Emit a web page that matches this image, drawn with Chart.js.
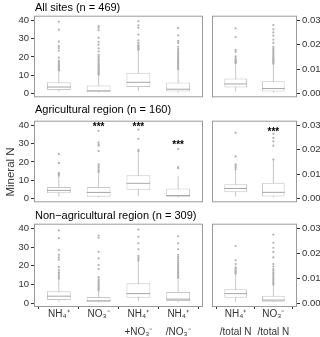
<!DOCTYPE html>
<html>
<head>
<meta charset="utf-8">
<script src="https://cdn.jsdelivr.net/npm/chart.js@4.4.1/dist/chart.umd.min.js"></script>
<style>
  body { margin: 0; background: #fff; }
  #fig { position: relative; width: 320px; height: 337px; overflow: hidden; font-family: 'Liberation Sans', Arial, sans-serif; }
  #fig canvas { position: absolute; }
  .title { position: absolute; left: 35px; font-size: 11px; line-height: 13px; color: #000; white-space: nowrap; z-index: 2; }
  .ylab { position: absolute; left: -20px; top: 165px; width: 60px; height: 14px; line-height: 14px; font-size: 11.5px; font-weight: 400; color: #333; text-align: center; transform: rotate(-90deg); z-index: 2; }
</style>
</head>
<body>
<div id="fig">
  <div class="title" style="top:1px">All sites (n = 469)</div>
  <div class="title" style="top:103px">Agricultural region (n = 160)</div>
  <div class="title" style="top:209px">Non−agricultural region (n = 309)</div>
  <div class="ylab">Mineral N</div>
</div>
<script>
const minCats = [['NH₄⁺'], ['NO₃⁻'], ['NH₄⁺', '+NO₃⁻'], ['NH₄⁺', '/NO₃⁻']]
const ratioCats = [['NH₄⁺', '/total N'], ['NO₃⁻', '/total N']]
const minTicks = [0, 10, 20, 30, 40]
const ratioTicks = [0, 0.01, 0.02, 0.03]

// each box: [lower whisker, Q1, median, Q3, upper whisker]
const allBox = [[1.0, 1.9, 3.5, 6.1, 12.1], [0.5, 0.9, 1.4, 4.4, 9.8], [1.4, 3.5, 6.1, 11.4, 23.5], [0.5, 1.1, 2.3, 6.0, 13.0]]
const allOut = [
    [12.6, 13.0, 13.4, 13.8, 14.3, 14.8, 15.4, 16.0, 16.6, 17.2, 17.9, 19.6, 23.5, 24.9, 26.0, 28.4, 35.0, 39.3],
    [10.2, 10.7, 11.2, 11.8, 12.3, 12.9, 13.5, 14.0, 14.6, 15.2, 15.8, 16.5, 17.2, 18.0, 18.8, 19.6, 20.4, 21.2, 23.0, 24.7, 26.7, 28.2, 30.5, 34.7, 36.1, 37.0],
    [23.9, 24.3, 24.8, 25.3, 25.9, 26.5, 27.7, 29.1, 32.3, 36.1, 37.4, 39.6],
    [13.3, 13.8, 14.3, 14.9, 15.5, 16.1, 16.7, 17.3, 18.0, 18.7, 19.4, 20.1, 20.9, 21.7, 22.5, 23.4, 24.4, 25.6, 27.7, 28.8, 31.9, 35.8]
]
const allRatioBox = [[0.0008, 0.0024, 0.0039, 0.0061, 0.0120], [0.0004, 0.0008, 0.0020, 0.0050, 0.0120]]
const allRatioOut = [
    [0.0124, 0.0127, 0.0130, 0.0133, 0.0136, 0.0139, 0.0145, 0.0153, 0.0172, 0.0179, 0.0232, 0.0268],
    [0.0122, 0.0126, 0.0130, 0.0134, 0.0138, 0.0142, 0.0147, 0.0152, 0.0157, 0.0162, 0.0168, 0.0174, 0.0180, 0.0186, 0.0192, 0.0208, 0.0221, 0.0238, 0.0251, 0.0264, 0.0282]
]

const agriBox = [[1.0, 2.8, 4.4, 6.2, 12.0], [0.5, 0.9, 3.3, 6.2, 13.7], [1.4, 4.8, 8.3, 12.7, 24.8], [0.5, 0.9, 1.6, 5.5, 12.3]]
const agriOut = [
    [12.5, 13.0, 13.4, 14.1, 19.5, 24.3],
    [14.3, 15.1, 16.0, 16.9, 17.8, 18.7, 26.0, 28.9, 29.6, 30.6, 37.1],
    [25.7, 26.6, 32.7, 37.7],
    [16.5, 17.2, 27.1]
]
const agriSig = ['', '***', '***', '***']
const agriSigAt = [null, 40.4, 40.7, 30.7]
const agriRatioBox = [[0.0008, 0.0025, 0.0041, 0.0058, 0.0116], [0.0004, 0.0008, 0.0025, 0.0065, 0.0156]]
const agriRatioOut = [
    [0.0120, 0.0127, 0.0133, 0.0140, 0.0173, 0.0270],
    [0.0160, 0.0217, 0.0235, 0.0249, 0.0266]
]
const agriRatioSig = ['', '***']
const agriRatioSigAt = [null, 0.0282]

const nonBox = [[0.7, 1.6, 3.7, 6.3, 12.2], [0.4, 0.7, 1.2, 3.2, 6.5], [1.1, 2.8, 5.1, 10.6, 22.2], [0.4, 1.1, 2.1, 6.0, 12.7]]
const nonOut = [
    [13.0, 13.9, 14.8, 15.7, 16.5, 17.8, 19.4, 23.3, 24.5, 25.9, 28.5, 34.9, 39.1],
    [6.9, 7.5, 8.1, 8.7, 9.3, 9.9, 10.6, 11.3, 12.0, 12.8, 13.9, 18.3, 20.4, 24.0, 27.5, 35.1, 36.3],
    [22.7, 23.6, 24.5, 25.4, 28.9, 32.1, 35.6, 39.5],
    [13.4, 14.0, 14.6, 15.2, 15.8, 16.5, 17.2, 17.9, 18.6, 19.4, 20.2, 21.0, 21.9, 22.8, 23.8, 24.8, 25.9, 28.9, 32.1, 35.9]
]
const nonRatioBox = [[0.0005, 0.0021, 0.0038, 0.0056, 0.0114], [0.0003, 0.0005, 0.0012, 0.0029, 0.0071]]
const nonRatioOut = [
    [0.0118, 0.0122, 0.0126, 0.0130, 0.0134, 0.0139, 0.0144, 0.0157, 0.0173, 0.0230],
    [0.0074, 0.0079, 0.0084, 0.0089, 0.0094, 0.0099, 0.0105, 0.0111, 0.0117, 0.0123, 0.0130, 0.0137, 0.0147, 0.0157, 0.0184, 0.0206, 0.0223, 0.0243, 0.0276]
]

const FONT = "'Liberation Sans', Arial, sans-serif"
const BOX = '#c6c6c6'
const MED = '#a6a6a6'
const DOT = '#b0b0b0'
const INK = '#333'

Chart.defaults.font.family = FONT
Chart.defaults.animation = false

const fig = document.getElementById('fig')

const frame = {
    id: 'frame',
    afterDatasetsDraw(chart) {
        const a = chart.chartArea
        const ctx = chart.ctx
        ctx.save()
        ctx.strokeStyle = '#9a9a9a'
        ctx.lineWidth = 1
        ctx.strokeRect(a.left - 0.5, a.top - 0.5, a.right - a.left + 1, a.bottom - a.top + 1)
        ctx.restore()
    }
}

function stars(labels, at) {
    return {
        id: 'stars',
        afterDatasetsDraw(chart) {
            const { ctx, scales: { x, y } } = chart
            ctx.save()
            ctx.fillStyle = '#000'
            ctx.font = `bold 10px ${FONT}`
            ctx.textAlign = 'center'
            ctx.textBaseline = 'middle'
            labels.forEach((t, i) => {
                if (t) ctx.fillText(t, x.getPixelForValue(i + 1), y.getPixelForValue(at[i]) + 2.5)
            })
            ctx.restore()
        }
    }
}

function panel({ left, top, width, height, boxes, outs, cats, ratio, bottom, sig, sigAt }) {
    const canvas = document.createElement('canvas')
    canvas.width = width
    canvas.height = height
    canvas.style.left = left + 'px'
    canvas.style.top = top + 'px'
    fig.appendChild(canvas)

    const whisk = [], meds = [], dots = []
    boxes.forEach((b, i) => {
        const x = i + 1
        whisk.push({ x, y: b[0] }, { x, y: b[4] }, { x, y: null })
        meds.push({ x: x - 0.3, y: b[2] }, { x: x + 0.3, y: b[2] }, { x, y: null })
        outs[i].forEach(v => dots.push({ x, y: v }))
    })

    const xs = cats.map((c, i) => i + 1)
    const yTicks = ratio ? ratioTicks : minTicks
    const yMax = ratio ? 0.03158 : 42.1
    const yMin = ratio ? -0.00118 : -1.58

    const plugins = [frame]
    if (sig) plugins.push(stars(sig, sigAt))

    new Chart(canvas, {
        type: 'bar',
        data: {
            datasets: [
                { type: 'line', data: whisk, borderColor: BOX, borderWidth: 1, pointRadius: 0, spanGaps: false, order: 4 },
                {
                    type: 'bar',
                    data: boxes.map((b, i) => ({ x: i + 1, y: [b[1], b[3]] })),
                    backgroundColor: '#fff', borderColor: BOX, borderWidth: 1, borderSkipped: false,
                    barPercentage: 0.6, categoryPercentage: 1, order: 3
                },
                { type: 'line', data: meds, borderColor: MED, borderWidth: 1, pointRadius: 0, spanGaps: false, order: 2 },
                { type: 'scatter', data: dots, backgroundColor: DOT, borderWidth: 0, pointRadius: 1.1, order: 1 }
            ]
        },
        options: {
            responsive: false,
            devicePixelRatio: 1,
            layout: { padding: { top: 6, bottom: bottom ? 0 : 6, left: ratio ? 7 : 0, right: ratio ? 0 : 2 } },
            plugins: { legend: { display: false }, tooltip: { enabled: false } },
            scales: {
                x: {
                    type: 'linear',
                    min: 0.4,
                    max: cats.length + 0.6,
                    offset: false,
                    display: !!bottom,
                    afterBuildTicks: s => { s.ticks = xs.map(v => ({ value: v })) },
                    afterFit: s => { s.height = bottom ? 31 : 0 },
                    border: { display: false },
                    grid: { display: true, drawOnChartArea: false, tickLength: 3, tickColor: INK },
                    ticks: {
                        color: INK, padding: -4, maxRotation: 0, autoSkip: false,
                        font: { size: 10, lineHeight: 1.8 },
                        callback: v => cats[Math.round(v) - 1]
                    }
                },
                y: {
                    type: 'linear',
                    position: ratio ? 'right' : 'left',
                    min: yMin,
                    max: yMax,
                    afterBuildTicks: s => { s.ticks = yTicks.map(v => ({ value: v })) },
                    afterFit: s => { s.width = ratio ? 24 : 35 },
                    border: { display: false },
                    grid: { display: true, drawOnChartArea: false, tickLength: 4, tickColor: INK },
                    ticks: {
                        color: INK, padding: 2, font: { size: 9.5 },
                        callback: v => ratio ? v.toFixed(2) : String(v)
                    }
                }
            }
        },
        plugins
    })
}

// row tops of the plotting areas: 15, 120, 223 ; plot height 83
panel({ left: 0, top: 9, width: 206, height: 95, boxes: allBox, outs: allOut, cats: minCats })
panel({ left: 206, top: 9, width: 114, height: 95, boxes: allRatioBox, outs: allRatioOut, cats: ratioCats, ratio: true })
panel({ left: 0, top: 114, width: 206, height: 95, boxes: agriBox, outs: agriOut, cats: minCats, sig: agriSig, sigAt: agriSigAt })
panel({ left: 206, top: 114, width: 114, height: 95, boxes: agriRatioBox, outs: agriRatioOut, cats: ratioCats, ratio: true, sig: agriRatioSig, sigAt: agriRatioSigAt })
panel({ left: 0, top: 217, width: 206, height: 120, boxes: nonBox, outs: nonOut, cats: minCats, bottom: true })
panel({ left: 206, top: 217, width: 114, height: 120, boxes: nonRatioBox, outs: nonRatioOut, cats: ratioCats, ratio: true, bottom: true })
</script>
</body>
</html>
